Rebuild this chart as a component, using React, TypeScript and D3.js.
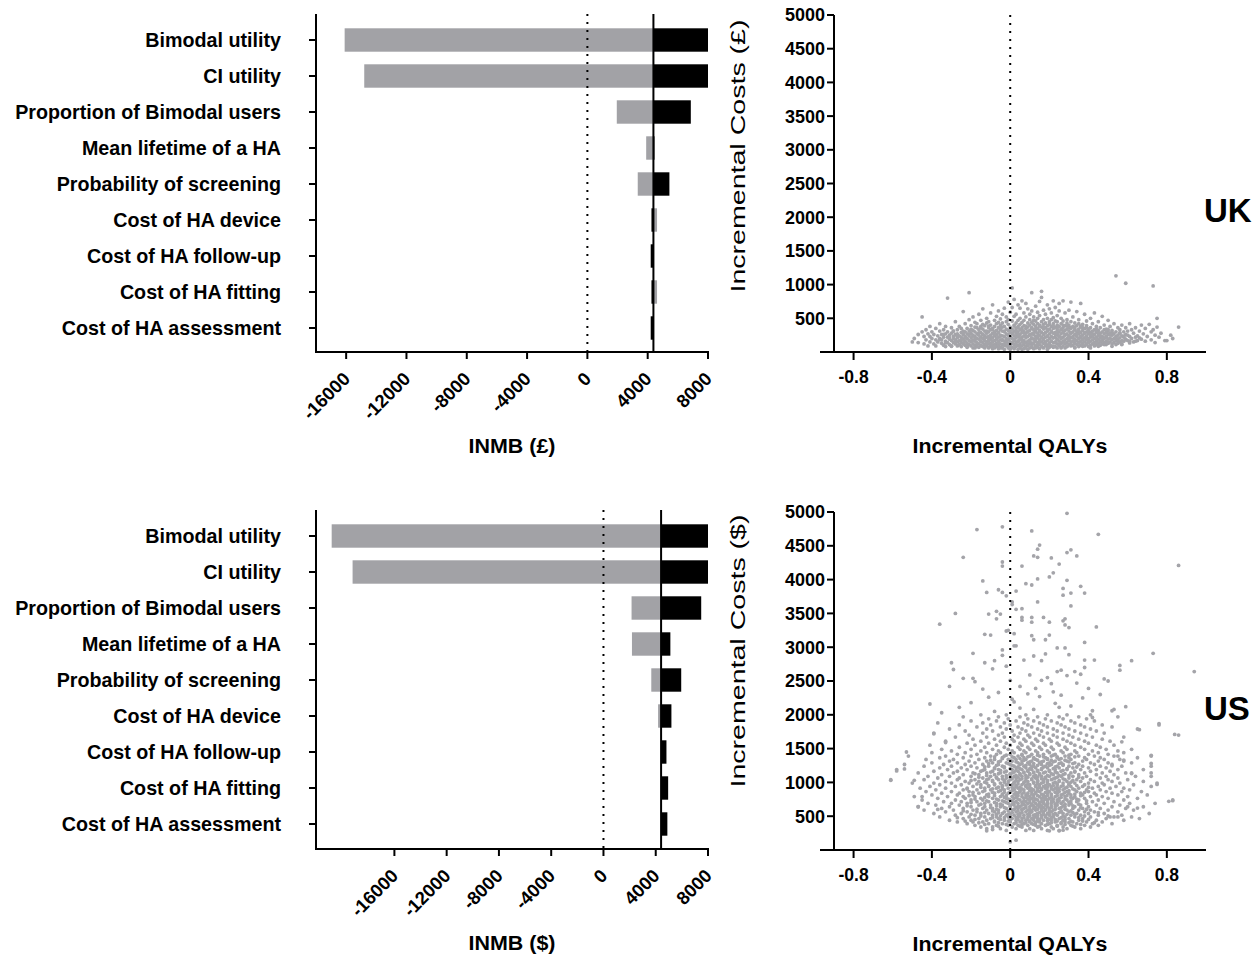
import * as d3 from "d3";

const FONT = "'Liberation Sans', Arial, Helvetica, sans-serif";
const GRAY = "#a2a2a6";
const DOT = "#a4a4a9";

// tornado categories (top to bottom)
const params = [
  "Bimodal utility",
  "CI utility",
  "Proportion of Bimodal users",
  "Mean lifetime of a HA",
  "Probability of screening",
  "Cost of HA device",
  "Cost of HA follow-up",
  "Cost of HA fitting",
  "Cost of HA assessment",
];

// INMB at each end of the parameter range
const ukBase = 4380;
const ukGray = [-16100, -14800, 1950, 3900, 3340, 4620, 4380, 4620, 4380];
const ukBlack = [8000, 8000, 6860, 4450, 5440, 4250, 4200, 4250, 4200];

const usBase = 4410;
const usGray = [-20800, -19200, 2150, 2180, 3660, 4180, 4410, 4410, 4410];
const usBlack = [8000, 8000, 7480, 5120, 5950, 5200, 4820, 4950, 4890];

const inmbTicks = [-16000, -12000, -8000, -4000, 0, 4000, 8000];
const qalyTicks = [-0.8, -0.4, 0, 0.4, 0.8];
const costTicks = [500, 1000, 1500, 2000, 2500, 3000, 3500, 4000, 4500, 5000];

// UK PSA cloud by QALY column: [qaly, [costs...]]
const ukCloud: [number, number[]][] = [
  [-0.50, [150]], [-0.49, [200]], [-0.47, [260, 140]], [-0.45, [520, 300]],
  [-0.44, [230, 120]], [-0.43, [330, 180]], [-0.42, [270, 90]], [-0.41, [380, 150, 230]],
  [-0.40, [300, 200]], [-0.39, [120, 260]], [-0.38, [350, 180, 90]], [-0.37, [240, 150]],
  [-0.36, [420, 310, 200]], [-0.35, [130, 260, 180]], [-0.34, [330, 220, 100]],
  [-0.33, [270, 160, 80, 380]], [-0.32, [800, 220, 140, 300]], [-0.31, [190, 250, 110]],
  [-0.30, [360, 280, 170, 90]], [-0.29, [230, 140, 310, 200]], [-0.28, [450, 260, 180, 120]],
  [-0.27, [330, 210, 150, 90, 270]], [-0.26, [380, 240, 170, 110]], [-0.25, [290, 220, 140, 80, 350]],
  [-0.24, [600, 260, 190, 120, 310]], [-0.23, [420, 300, 230, 160, 100]],
  [-0.22, [350, 270, 200, 130, 70]], [-0.21, [880, 480, 310, 240, 170, 110]],
  [-0.20, [390, 280, 210, 150, 90, 330]], [-0.19, [520, 320, 250, 180, 120, 60]],
  [-0.18, [440, 300, 230, 160, 100, 370]], [-0.17, [360, 270, 200, 140, 80, 420]],
  [-0.16, [560, 330, 250, 190, 120, 70]], [-0.15, [470, 380, 290, 220, 160, 100]],
  [-0.14, [640, 340, 260, 200, 140, 80, 410]], [-0.13, [390, 310, 240, 170, 110, 60]],
  [-0.12, [500, 430, 280, 220, 150, 90]], [-0.11, [360, 300, 230, 170, 120, 70, 450]],
  [-0.10, [580, 400, 330, 250, 190, 130, 80]], [-0.09, [700, 350, 280, 210, 150, 100, 50]],
  [-0.08, [470, 380, 300, 240, 170, 110, 60]], [-0.07, [530, 420, 320, 260, 190, 130, 80]],
  [-0.06, [610, 360, 290, 220, 160, 100, 50, 440]], [-0.05, [490, 400, 330, 250, 180, 120, 70]],
  [-0.04, [560, 430, 310, 240, 170, 110, 60, 370]], [-0.03, [650, 380, 300, 230, 160, 100, 40]],
  [-0.02, [520, 450, 340, 270, 200, 140, 90]], [-0.01, [740, 410, 320, 250, 180, 120, 60, 480]],
  [0.00, [590, 370, 290, 220, 150, 90, 40]], [0.01, [950, 660, 460, 340, 270, 200, 130, 70]],
  [0.02, [780, 400, 310, 240, 170, 110, 50, 530]], [0.03, [560, 430, 350, 280, 210, 140, 80]],
  [0.04, [700, 380, 300, 230, 160, 100, 40, 470]], [0.05, [650, 500, 410, 330, 260, 190, 120, 60]],
  [0.06, [760, 440, 360, 290, 220, 150, 90, 40]], [0.07, [580, 470, 390, 310, 240, 170, 110, 50]],
  [0.08, [720, 520, 350, 280, 210, 140, 80]], [0.09, [640, 430, 370, 300, 230, 160, 100, 40]],
  [0.10, [560, 480, 400, 320, 250, 180, 120, 60]], [0.11, [880, 610, 440, 350, 270, 200, 130, 70]],
  [0.12, [520, 410, 330, 260, 190, 120, 50, 470]], [0.13, [680, 460, 380, 300, 230, 160, 90]],
  [0.14, [590, 420, 350, 280, 210, 140, 70, 500]], [0.15, [750, 540, 400, 320, 250, 180, 110, 50]],
  [0.16, [900, 810, 450, 370, 290, 220, 150, 80]], [0.17, [620, 480, 340, 270, 200, 130, 60, 410]],
  [0.18, [560, 430, 360, 290, 220, 150, 90]], [0.19, [700, 500, 390, 310, 240, 170, 100, 40]],
  [0.20, [640, 450, 340, 270, 200, 130, 70, 410]], [0.21, [580, 480, 380, 300, 230, 160, 90]],
  [0.22, [760, 420, 350, 280, 210, 140, 70, 510]], [0.23, [660, 460, 370, 290, 220, 150, 80]],
  [0.24, [540, 400, 330, 260, 190, 120, 60, 450]], [0.25, [720, 610, 380, 300, 230, 160, 100]],
  [0.26, [500, 420, 340, 270, 200, 130, 70]], [0.27, [760, 460, 360, 290, 220, 150, 90, 400]],
  [0.28, [580, 390, 320, 250, 180, 120, 60]], [0.29, [480, 430, 340, 270, 200, 140, 80]],
  [0.30, [620, 400, 310, 240, 170, 110, 360]], [0.31, [740, 450, 350, 280, 210, 150, 90]],
  [0.32, [520, 380, 300, 230, 160, 100]], [0.33, [430, 330, 260, 190, 130, 70, 370]],
  [0.34, [600, 390, 300, 230, 170, 110]], [0.35, [480, 340, 270, 200, 140, 80, 420]],
  [0.36, [720, 370, 290, 220, 160, 100]], [0.37, [410, 320, 250, 190, 130, 360]],
  [0.38, [560, 350, 280, 210, 150, 90]], [0.39, [460, 300, 240, 180, 120, 390]],
  [0.40, [340, 270, 200, 140, 80, 310]], [0.41, [500, 360, 290, 220, 160, 100]],
  [0.42, [420, 310, 240, 180, 120, 270]], [0.43, [580, 330, 260, 200, 140, 90]],
  [0.44, [380, 290, 220, 160, 110, 340]], [0.45, [450, 320, 250, 190, 130]],
  [0.46, [360, 280, 210, 150, 100, 240]], [0.47, [530, 300, 230, 170, 120]],
  [0.48, [400, 270, 200, 140, 330]], [0.49, [340, 290, 220, 160, 110]],
  [0.50, [470, 260, 190, 130, 310]], [0.51, [380, 280, 210, 150]],
  [0.52, [320, 250, 180, 120, 290]], [0.53, [420, 270, 200, 140]],
  [0.54, [1130, 300, 230, 170, 110]], [0.55, [360, 250, 190, 130]],
  [0.56, [280, 210, 150, 330]], [0.57, [400, 240, 170, 120]], [0.58, [300, 220, 160]],
  [0.59, [1020, 360, 260, 190]], [0.60, [250, 170, 310]], [0.61, [420, 230, 160]],
  [0.62, [330, 200]], [0.63, [280, 150]], [0.64, [360, 220]], [0.65, [240, 170]],
  [0.66, [310]], [0.67, [190, 400]], [0.68, [270]], [0.69, [350, 160]], [0.70, [230]],
  [0.71, [410]], [0.72, [300, 180]], [0.73, [980, 330]], [0.74, [250, 140]],
  [0.75, [500, 370]], [0.76, [220]], [0.77, [280]], [0.79, [170]], [0.80, [170]],
  [0.82, [250]], [0.83, [200]], [0.86, [370]],
];

// UK dense band by cost row: [cost, [qalys...]]
const ukCore: [number, number[]][] = [
  [60, [-0.18, -0.11, -0.05, 0.02, 0.08, 0.13, 0.19, 0.26, 0.33, 0.41]],
  [85, [-0.30, -0.22, -0.14, -0.08, -0.01, 0.05, 0.11, 0.16, 0.22, 0.29, 0.37, 0.45, 0.52]],
  [110, [-0.26, -0.17, -0.10, -0.03, 0.03, 0.09, 0.14, 0.20, 0.25, 0.31, 0.39, 0.48, 0.57]],
  [135, [-0.33, -0.24, -0.12, -0.06, 0.01, 0.07, 0.12, 0.18, 0.23, 0.28, 0.35, 0.43, 0.50, 0.61]],
  [160, [-0.28, -0.20, -0.15, -0.09, -0.02, 0.04, 0.10, 0.15, 0.21, 0.27, 0.33, 0.40, 0.46, 0.55, 0.64]],
  [185, [-0.36, -0.25, -0.18, -0.11, -0.04, 0.02, 0.06, 0.13, 0.17, 0.24, 0.30, 0.37, 0.44, 0.52, 0.59]],
  [210, [-0.31, -0.23, -0.13, -0.07, 0.00, 0.05, 0.11, 0.16, 0.22, 0.26, 0.32, 0.39, 0.47, 0.54, 0.66]],
  [235, [-0.27, -0.19, -0.10, -0.05, 0.03, 0.08, 0.14, 0.19, 0.25, 0.30, 0.36, 0.42, 0.49, 0.58]],
  [260, [-0.34, -0.21, -0.14, -0.08, -0.01, 0.04, 0.10, 0.17, 0.23, 0.28, 0.34, 0.41, 0.51]],
  [285, [-0.24, -0.16, -0.06, 0.01, 0.07, 0.12, 0.18, 0.24, 0.31, 0.38, 0.45, 0.56]],
  [310, [-0.29, -0.12, -0.03, 0.03, 0.09, 0.15, 0.21, 0.27, 0.35, 0.44]],
  [335, [-0.20, -0.09, 0.00, 0.06, 0.13, 0.19, 0.26, 0.33, 0.40, 0.50]],
  [360, [-0.15, -0.05, 0.04, 0.11, 0.17, 0.24, 0.31, 0.39]],
  [385, [-0.11, 0.02, 0.08, 0.15, 0.22, 0.29, 0.36]],
];

// US PSA cloud by cost row: [cost, [qalys...]]
const usCore: [number, number[]][] = [
  [290, [0.08, 0.12, 0.19, -0.02, 0.25]],
  [315, [-0.05, 0.03, 0.10, 0.16, 0.22, 0.29, 0.36, -0.12]],
  [340, [-0.09, 0.01, 0.06, 0.14, 0.21, 0.27, 0.33, -0.15, 0.41]],
  [365, [-0.18, -0.07, -0.01, 0.04, 0.09, 0.13, 0.18, 0.24, 0.31, 0.38, 0.45]],
  [390, [-0.22, -0.11, -0.04, 0.02, 0.07, 0.11, 0.16, 0.20, 0.26, 0.34, 0.42, 0.52]],
  [415, [-0.27, -0.14, -0.08, 0.00, 0.05, 0.10, 0.15, 0.23, 0.28, 0.32, 0.39, -0.19, 0.47]],
  [440, [-0.31, -0.20, -0.12, -0.03, 0.03, 0.08, 0.12, 0.17, 0.21, 0.27, 0.35, 0.44, 0.58]],
  [465, [-0.24, -0.16, -0.10, -0.06, 0.01, 0.06, 0.11, 0.14, 0.19, 0.25, 0.30, 0.37, 0.49, 0.66]],
  [490, [-0.36, -0.21, -0.13, -0.07, -0.01, 0.04, 0.09, 0.13, 0.18, 0.22, 0.28, 0.33, 0.41, 0.53, 0.62]],
  [515, [-0.28, -0.18, -0.09, -0.02, 0.02, 0.07, 0.12, 0.16, 0.20, 0.24, 0.31, 0.36, 0.45, 0.57]],
  [540, [-0.39, -0.25, -0.15, -0.11, -0.04, 0.00, 0.05, 0.10, 0.14, 0.19, 0.23, 0.27, 0.34, 0.40, 0.48, 0.71]],
  [565, [-0.33, -0.22, -0.17, -0.08, -0.03, 0.03, 0.08, 0.11, 0.17, 0.21, 0.26, 0.30, 0.38, 0.43, 0.55]],
  [590, [-0.44, -0.29, -0.19, -0.12, -0.06, 0.01, 0.06, 0.09, 0.13, 0.18, 0.22, 0.29, 0.35, 0.41, 0.50, 0.63]],
  [615, [-0.35, -0.24, -0.14, -0.09, -0.02, 0.04, 0.07, 0.12, 0.16, 0.20, 0.25, 0.32, 0.37, 0.46, 0.59]],
  [640, [-0.47, -0.31, -0.20, -0.13, -0.05, 0.00, 0.05, 0.10, 0.15, 0.19, 0.23, 0.28, 0.33, 0.40, 0.52, 0.68]],
  [665, [-0.38, -0.26, -0.16, -0.10, -0.04, 0.02, 0.06, 0.11, 0.14, 0.18, 0.24, 0.30, 0.36, 0.44, 0.56]],
  [690, [-0.42, -0.30, -0.22, -0.13, -0.07, -0.01, 0.04, 0.09, 0.13, 0.17, 0.21, 0.26, 0.31, 0.39, 0.48, 0.61, 0.74]],
  [715, [-0.34, -0.25, -0.17, -0.11, -0.03, 0.03, 0.08, 0.12, 0.16, 0.22, 0.27, 0.34, 0.42, 0.53]],
  [740, [-0.45, -0.28, -0.20, -0.14, -0.06, 0.00, 0.05, 0.10, 0.14, 0.19, 0.24, 0.29, 0.35, 0.45, 0.58, 0.83]],
  [765, [-0.37, -0.23, -0.15, -0.09, -0.02, 0.02, 0.07, 0.11, 0.16, 0.20, 0.25, 0.32, 0.38, 0.50, 0.65]],
  [790, [-0.49, -0.32, -0.24, -0.18, -0.11, -0.05, 0.01, 0.06, 0.10, 0.15, 0.18, 0.23, 0.28, 0.33, 0.41, 0.47, 0.60]],
  [815, [-0.40, -0.27, -0.19, -0.12, -0.04, 0.03, 0.08, 0.12, 0.17, 0.21, 0.26, 0.31, 0.37, 0.44, 0.55, 0.70]],
  [840, [-0.35, -0.26, -0.16, -0.08, -0.01, 0.04, 0.09, 0.13, 0.19, 0.24, 0.30, 0.36, 0.43, 0.52]],
  [865, [-0.43, -0.30, -0.21, -0.14, -0.06, 0.00, 0.05, 0.11, 0.15, 0.20, 0.25, 0.29, 0.34, 0.40, 0.49, 0.57, 0.67]],
  [890, [-0.38, -0.24, -0.17, -0.10, -0.03, 0.02, 0.07, 0.12, 0.16, 0.22, 0.27, 0.33, 0.39, 0.46, 0.61]],
  [915, [-0.46, -0.33, -0.22, -0.13, -0.07, -0.01, 0.04, 0.09, 0.14, 0.18, 0.23, 0.28, 0.35, 0.42, 0.51, 0.58]],
  [940, [-0.41, -0.28, -0.19, -0.11, -0.04, 0.03, 0.08, 0.13, 0.17, 0.21, 0.26, 0.31, 0.37, 0.45, 0.54, 0.72]],
  [965, [-0.36, -0.25, -0.15, -0.08, -0.02, 0.01, 0.06, 0.10, 0.15, 0.20, 0.24, 0.30, 0.38, 0.48, 0.63]],
  [990, [-0.50, -0.39, -0.30, -0.21, -0.12, -0.05, 0.02, 0.07, 0.12, 0.16, 0.22, 0.27, 0.33, 0.40, 0.47, 0.56, 0.75]],
  [1015, [-0.33, -0.23, -0.16, -0.09, -0.01, 0.04, 0.09, 0.14, 0.19, 0.25, 0.29, 0.36, 0.43, 0.52, 0.68]],
  [1040, [-0.61, -0.44, -0.27, -0.18, -0.12, -0.06, 0.00, 0.05, 0.11, 0.17, 0.21, 0.28, 0.34, 0.41, 0.50, 0.60]],
  [1065, [-0.37, -0.26, -0.14, -0.07, -0.02, 0.03, 0.08, 0.13, 0.18, 0.23, 0.30, 0.37, 0.46, 0.55]],
  [1090, [-0.42, -0.31, -0.20, -0.10, -0.04, 0.02, 0.06, 0.12, 0.16, 0.20, 0.26, 0.32, 0.39, 0.49, 0.64, 0.72]],
  [1115, [-0.35, -0.24, -0.16, -0.08, 0.00, 0.05, 0.10, 0.15, 0.22, 0.27, 0.35, 0.44, 0.53]],
  [1140, [-0.47, -0.29, -0.19, -0.12, -0.05, 0.01, 0.07, 0.12, 0.17, 0.24, 0.31, 0.38, 0.47, 0.59, 0.62]],
  [1165, [-0.39, -0.27, -0.15, -0.09, -0.02, 0.04, 0.09, 0.14, 0.20, 0.26, 0.33, 0.41, 0.51]],
  [1190, [-0.58, -0.32, -0.22, -0.13, -0.06, 0.01, 0.06, 0.11, 0.16, 0.23, 0.29, 0.36, 0.44, 0.55, 0.68]],
  [1215, [-0.36, -0.25, -0.17, -0.08, -0.03, 0.03, 0.08, 0.13, 0.19, 0.25, 0.32, 0.40, 0.49]],
  [1240, [-0.44, -0.30, -0.20, -0.11, -0.04, 0.02, 0.07, 0.12, 0.18, 0.24, 0.30, 0.37, 0.46, 0.57, 0.72]],
  [1265, [-0.54, -0.34, -0.23, -0.14, -0.06, 0.00, 0.05, 0.10, 0.16, 0.21, 0.27, 0.35, 0.43, 0.52]],
  [1290, [-0.40, -0.27, -0.18, -0.09, -0.02, 0.04, 0.09, 0.15, 0.20, 0.26, 0.33, 0.41, 0.50, 0.62]],
  [1315, [-0.31, -0.21, -0.12, -0.05, 0.01, 0.06, 0.11, 0.17, 0.23, 0.29, 0.37, 0.45, 0.58]],
  [1340, [-0.43, -0.29, -0.16, -0.08, -0.01, 0.03, 0.08, 0.13, 0.19, 0.25, 0.31, 0.39, 0.48, 0.56]],
  [1365, [-0.36, -0.24, -0.13, -0.04, 0.02, 0.07, 0.12, 0.18, 0.24, 0.30, 0.38, 0.46, 0.65]],
  [1390, [-0.52, -0.33, -0.20, -0.10, -0.03, 0.04, 0.10, 0.15, 0.21, 0.28, 0.35, 0.43, 0.53, 0.72]],
  [1415, [-0.27, -0.17, -0.07, 0.00, 0.06, 0.11, 0.17, 0.23, 0.31, 0.40, 0.50]],
  [1440, [-0.40, -0.23, -0.12, -0.05, 0.02, 0.08, 0.14, 0.20, 0.27, 0.34, 0.45, 0.58]],
  [1465, [-0.30, -0.15, -0.06, 0.01, 0.07, 0.13, 0.19, 0.26, 0.33, 0.42, 0.55]],
  [1490, [-0.35, -0.20, -0.09, -0.01, 0.05, 0.10, 0.16, 0.22, 0.29, 0.38, 0.49, 0.62]],
  [1520, [-0.26, -0.13, -0.03, 0.04, 0.09, 0.15, 0.21, 0.28, 0.36, 0.46]],
  [1550, [-0.41, -0.18, -0.07, 0.00, 0.06, 0.12, 0.18, 0.25, 0.33, 0.44, 0.53]],
  [1580, [-0.22, -0.11, -0.02, 0.05, 0.11, 0.17, 0.24, 0.31, 0.40]],
  [1610, [-0.33, -0.15, -0.05, 0.02, 0.08, 0.14, 0.21, 0.29, 0.38, 0.51]],
  [1640, [-0.19, -0.08, 0.01, 0.07, 0.13, 0.20, 0.27, 0.35, 0.47]],
  [1670, [-0.28, -0.12, -0.03, 0.04, 0.10, 0.17, 0.24, 0.32, 0.42, 0.58]],
  [1700, [-0.21, -0.06, 0.02, 0.09, 0.15, 0.22, 0.30, 0.39, 0.86]],
  [1730, [-0.39, -0.14, -0.04, 0.05, 0.12, 0.19, 0.27, 0.36, 0.48]],
  [1760, [-0.23, -0.09, 0.01, 0.08, 0.16, 0.24, 0.33, 0.44]],
  [1790, [-0.31, -0.12, -0.02, 0.06, 0.14, 0.22, 0.30, 0.41, 0.65]],
  [1820, [-0.17, -0.05, 0.04, 0.11, 0.19, 0.28, 0.38, 0.52]],
  [1850, [-0.26, -0.10, 0.00, 0.09, 0.17, 0.26, 0.36, 0.47, 0.76]],
  [1880, [-0.37, -0.14, -0.03, 0.07, 0.15, 0.24, 0.33]],
  [1910, [-0.20, -0.07, 0.03, 0.12, 0.21, 0.31, 0.43]],
  [1940, [-0.11, -0.01, 0.09, 0.18, 0.27, 0.39]],
  [1970, [-0.24, -0.06, 0.05, 0.14, 0.25, 0.35, 0.55]],
  [2000, [-0.15, -0.02, 0.08, 0.19, 0.29, 0.41]],
];

// US densest part of the cloud, rows between those above
const usDense: [number, number[]][] = [
  [352, [-0.06, 0.05, 0.15, 0.24, 0.32]],
  [378, [-0.13, -0.02, 0.06, 0.12, 0.19, 0.28, 0.36]],
  [403, [-0.16, -0.06, 0.03, 0.08, 0.13, 0.21, 0.26, 0.30, 0.43]],
  [428, [-0.23, -0.08, -0.01, 0.06, 0.10, 0.14, 0.19, 0.24, 0.31, 0.37]],
  [452, [-0.18, -0.05, 0.00, 0.04, 0.09, 0.15, 0.20, 0.23, 0.28, 0.40]],
  [478, [-0.27, -0.09, -0.03, 0.03, 0.07, 0.12, 0.16, 0.21, 0.26, 0.35]],
  [503, [-0.15, -0.05, 0.00, 0.05, 0.10, 0.14, 0.18, 0.22, 0.27, 0.38, 0.50]],
  [528, [-0.20, -0.07, -0.01, 0.04, 0.09, 0.13, 0.17, 0.22, 0.29, 0.33]],
  [553, [-0.13, -0.06, 0.01, 0.06, 0.10, 0.15, 0.20, 0.25, 0.32, 0.45]],
  [578, [-0.24, -0.09, -0.01, 0.04, 0.11, 0.16, 0.20, 0.26, 0.31]],
  [603, [-0.17, -0.07, 0.02, 0.06, 0.10, 0.14, 0.18, 0.23, 0.28, 0.39]],
  [628, [-0.10, -0.03, 0.03, 0.08, 0.13, 0.17, 0.21, 0.26, 0.36]],
  [653, [-0.22, -0.07, 0.00, 0.04, 0.08, 0.12, 0.16, 0.21, 0.27, 0.32]],
  [678, [-0.15, -0.05, 0.01, 0.07, 0.11, 0.15, 0.19, 0.23, 0.28, 0.35]],
  [703, [-0.20, -0.08, -0.02, 0.02, 0.06, 0.10, 0.15, 0.19, 0.24, 0.30]],
  [728, [-0.12, -0.04, 0.01, 0.07, 0.12, 0.17, 0.21, 0.25, 0.31, 0.39]],
  [753, [-0.18, -0.07, -0.01, 0.04, 0.09, 0.13, 0.18, 0.22, 0.28, 0.34]],
  [778, [-0.13, -0.03, 0.03, 0.08, 0.12, 0.17, 0.21, 0.26, 0.31]],
  [803, [-0.21, -0.08, -0.02, 0.04, 0.09, 0.14, 0.19, 0.24, 0.29, 0.36]],
  [828, [-0.11, -0.04, 0.02, 0.06, 0.11, 0.16, 0.21, 0.27, 0.33]],
  [853, [-0.19, -0.09, -0.03, 0.03, 0.07, 0.13, 0.18, 0.23, 0.28, 0.38]],
  [878, [-0.13, -0.05, 0.01, 0.05, 0.10, 0.14, 0.19, 0.24, 0.30]],
  [903, [-0.22, -0.09, -0.04, 0.02, 0.06, 0.11, 0.16, 0.21, 0.25, 0.32]],
  [928, [-0.15, -0.06, 0.01, 0.05, 0.10, 0.15, 0.19, 0.24, 0.29, 0.40]],
  [953, [-0.11, -0.04, 0.03, 0.08, 0.13, 0.18, 0.22, 0.27, 0.34]],
  [978, [-0.17, -0.08, -0.01, 0.04, 0.09, 0.14, 0.19, 0.24, 0.30]],
  [1003, [-0.13, -0.03, 0.02, 0.07, 0.12, 0.17, 0.23, 0.31]],
  [1028, [-0.20, -0.09, -0.03, 0.03, 0.08, 0.14, 0.19, 0.25, 0.32]],
  [1053, [-0.11, -0.04, 0.01, 0.06, 0.11, 0.16, 0.22, 0.27]],
  [1078, [-0.16, -0.07, 0.00, 0.04, 0.09, 0.14, 0.18, 0.24, 0.35]],
  [1103, [-0.12, -0.02, 0.03, 0.08, 0.13, 0.19, 0.25, 0.30]],
  [1128, [-0.18, -0.06, 0.00, 0.05, 0.10, 0.15, 0.21, 0.28]],
  [1153, [-0.10, -0.03, 0.02, 0.07, 0.12, 0.18, 0.23, 0.33]],
  [1178, [-0.14, -0.05, 0.03, 0.09, 0.14, 0.20, 0.27]],
  [1203, [-0.08, 0.00, 0.05, 0.10, 0.16, 0.22, 0.29]],
  [1228, [-0.13, -0.03, 0.04, 0.11, 0.17, 0.23, 0.34]],
  [1253, [-0.07, 0.01, 0.08, 0.14, 0.20, 0.27]],
  [1278, [-0.11, -0.01, 0.06, 0.12, 0.19, 0.25, 0.32]],
  [1303, [-0.06, 0.03, 0.10, 0.16, 0.22, 0.30]],
  [1328, [-0.10, 0.00, 0.07, 0.14, 0.21, 0.28]],
  [1353, [-0.04, 0.05, 0.12, 0.19, 0.26]],
  [1378, [-0.08, 0.01, 0.09, 0.17, 0.24, 0.33]],
  [1403, [-0.02, 0.06, 0.14, 0.22, 0.30]],
];

// US sparse points outside the core: [qaly, cost]
const usOuter: [number, number][] = [
  [0.29, 4980], [-0.17, 4740], [-0.04, 4780], [0.11, 4720], [0.45, 4670], [-0.24, 4330],
  [-0.04, 4260], [-0.04, 4200], [0.06, 4200], [0.12, 4350], [0.14, 4450], [0.15, 4510],
  [0.14, 4330], [0.21, 4320], [0.25, 4230], [0.29, 4400], [0.31, 4440], [0.34, 4350],
  [0.86, 4210], [-0.14, 3980], [-0.12, 3810], [-0.06, 3850], [-0.04, 3810], [-0.02, 3760],
  [0.03, 3830], [0.08, 3940], [0.11, 3920], [0.14, 4010], [0.20, 4040], [0.22, 4100],
  [0.29, 3990], [0.27, 3870], [0.27, 3770], [0.31, 3800], [0.36, 3900], [0.38, 3800],
  [0.31, 3610], [0.14, 3670], [0.01, 3670], [0.01, 3630], [0.03, 3560], [0.06, 3570],
  [-0.28, 3500], [-0.36, 3340], [-0.11, 3490], [-0.07, 3530], [-0.05, 3490], [-0.07, 3420],
  [0.06, 3440], [0.06, 3400], [0.11, 3440], [0.11, 3370], [0.17, 3440], [0.20, 3370],
  [0.27, 3390], [0.28, 3420], [0.28, 3330], [0.30, 3290], [0.44, 3300], [-0.13, 3190],
  [-0.10, 3180], [-0.02, 3240], [-0.01, 3250], [0.02, 3200], [0.03, 3020], [0.02, 3020],
  [0.11, 3170], [0.12, 3110], [0.18, 3110], [0.20, 3180], [0.38, 3070], [0.24, 2990],
  [0.28, 2990], [0.30, 2890], [-0.19, 2910], [-0.04, 2960], [-0.04, 2880], [0.07, 2810],
  [0.12, 2870], [0.16, 2800], [0.18, 2900], [-0.30, 2770], [-0.29, 2670], [-0.13, 2770],
  [-0.08, 2800], [-0.09, 2680], [-0.02, 2720], [0.24, 2640], [0.26, 2660], [0.29, 2580],
  [0.33, 2640], [0.36, 2600], [0.38, 2700], [0.38, 2810], [0.43, 2810], [0.56, 2730],
  [0.56, 2660], [0.62, 2800], [0.73, 2910], [0.94, 2640], [0.48, 2530], [0.50, 2500],
  [-0.24, 2540], [-0.19, 2540], [-0.18, 2490], [0.10, 2590], [0.16, 2510], [0.00, 2510],
  [0.19, 2550], [-0.31, 2420], [-0.14, 2380], [0.05, 2420], [0.13, 2390], [0.21, 2460],
  [0.34, 2470], [0.40, 2390], [-0.06, 2330], [0.09, 2310], [0.22, 2340], [0.46, 2300],
  [-0.11, 2260], [0.01, 2230], [0.15, 2270], [0.26, 2290], [0.37, 2250], [-0.41, 2160],
  [0.02, 2190], [-0.20, 2180], [0.23, 2170], [0.59, 2120], [0.31, 2130], [-0.35, 2030],
  [-0.26, 2110], [-0.08, 2050], [0.05, 2100], [0.25, 2110], [0.42, 2060], [0.53, 2080],
  [0.52, 2060], [0.42, 1960], [0.12, 2080],
  [-0.61, 1030], [-0.58, 1170], [-0.54, 1200], [-0.53, 1450], [-0.49, 1030], [-0.47, 640],
  [-0.45, 790], [-0.39, 1720], [-0.33, 1590], [-0.37, 600], [0.84, 1710], [0.76, 1870],
  [0.66, 1780], [0.83, 730], [0.75, 970], [0.72, 1400], [0.72, 1280], [0.72, 1140],
  [0.62, 1130], [0.51, 490], [0.55, 490], [0.60, 640], [0.65, 620], [0.57, 1600],
  [0.55, 1390], [0.58, 1330], [0.52, 1245], [0.81, 720],
  [0.00, 120], [0.03, 145], [-0.12, 283], [-0.09, 303], [0.20, 283], [0.25, 283], [0.27, 293],
];

const byColumn = (cloud: [number, number[]][]) =>
  cloud.flatMap(([q, cs]) => cs.map((c) => [q, c] as [number, number]));
const byRow = (rows: [number, number[]][]) =>
  rows.flatMap(([c, qs]) => qs.map((q) => [q, c] as [number, number]));

const ukPoints = [...byColumn(ukCloud), ...byRow(ukCore)];
const usPoints = [...byRow(usCore), ...byRow(usDense), ...usOuter];

const Tornado = ({ band, top, axisY, domain, gray, black, base, title }) => {
  const x = d3.scaleLinear().domain(domain).range([316, 708]);
  const y = d3.scaleBand().domain(params).range(band).paddingInner(0.35).paddingOuter(0.175);
  return (
    <g>
      {params.map((p, i) => (
        <g key={p}>
          <rect x={Math.min(x(gray[i]), x(base))} y={y(p)} width={Math.abs(x(gray[i]) - x(base))}
            height={y.bandwidth()} fill={GRAY} />
          <rect x={Math.min(x(black[i]), x(base))} y={y(p)} width={Math.abs(x(black[i]) - x(base))}
            height={y.bandwidth()} fill="#000" />
          <line x1={309} x2={316} y1={y(p) + y.bandwidth() / 2} y2={y(p) + y.bandwidth() / 2}
            stroke="#000" strokeWidth={2} />
          <text x={281} y={y(p) + y.bandwidth() / 2} dy="0.33em" textAnchor="end"
            fontSize={19.7} fontWeight="bold">{p}</text>
        </g>
      ))}
      <line x1={x(0)} x2={x(0)} y1={top} y2={axisY} stroke="#000" strokeWidth={2} strokeDasharray="2 6" />
      <line x1={x(base)} x2={x(base)} y1={top} y2={axisY} stroke="#000" strokeWidth={2} />
      <line x1={316} x2={316} y1={top} y2={axisY + 1} stroke="#000" strokeWidth={2} />
      <line x1={315} x2={709} y1={axisY} y2={axisY} stroke="#000" strokeWidth={2} />
      {inmbTicks.map((t) => (
        <g key={t}>
          <line x1={x(t)} x2={x(t)} y1={axisY} y2={axisY + 7} stroke="#000" strokeWidth={2} />
          <text transform={`translate(${x(t) + 5},${axisY + 28}) rotate(-45)`} textAnchor="end"
            fontSize={18.5} fontWeight="bold">{t}</text>
        </g>
      ))}
      <text x={512} y={axisY + 101} textAnchor="middle" fontSize={20} fontWeight="bold"
        textLength={87} lengthAdjust="spacingAndGlyphs">{title}</text>
    </g>
  );
};

const Scatter = ({ top, axisY, points, yTitle, titleY, region }) => {
  const x = d3.scaleLinear().domain([-0.9, 1.0]).range([834, 1206]);
  const y = d3.scaleLinear().domain([0, 5000]).range([axisY, top]);
  return (
    <g>
      <g fill={DOT}>
        {points.map(([q, c], i) => (
          <circle key={i} cx={x(q)} cy={y(c)} r={1.9} />
        ))}
      </g>
      <line x1={x(0)} x2={x(0)} y1={top} y2={axisY} stroke="#000" strokeWidth={2} strokeDasharray="2 6" />
      <line x1={834} x2={834} y1={top} y2={axisY + 1} stroke="#000" strokeWidth={2} />
      <line x1={820} x2={1206} y1={axisY} y2={axisY} stroke="#000" strokeWidth={2} />
      {costTicks.map((t) => (
        <g key={t}>
          <line x1={827} x2={834} y1={y(t)} y2={y(t)} stroke="#000" strokeWidth={2} />
          <text x={825} y={y(t)} dy="0.36em" textAnchor="end" fontSize={18} fontWeight="bold">{t}</text>
        </g>
      ))}
      {qalyTicks.map((t) => (
        <g key={t}>
          <line x1={x(t)} x2={x(t)} y1={axisY} y2={axisY + 8} stroke="#000" strokeWidth={2} />
          <text x={x(t)} y={axisY + 31} textAnchor="middle" fontSize={17.5} fontWeight="bold">{t}</text>
        </g>
      ))}
      <text transform={`translate(745,${titleY}) rotate(-90)`} textAnchor="middle" fontSize={20.5}
        textLength={273} lengthAdjust="spacingAndGlyphs">{yTitle}</text>
      <text x={1010} y={axisY + 101} textAnchor="middle" fontSize={20} fontWeight="bold"
        textLength={195} lengthAdjust="spacingAndGlyphs">Incremental QALYs</text>
      <text x={1204} y={axisY - 130} fontSize={33} fontWeight="bold">{region}</text>
    </g>
  );
};

export default function App() {
  return (
    <svg width={1260} height={959} viewBox="0 0 1260 959" fontFamily={FONT}
      style={{ position: "absolute", left: 0, top: 0, background: "#fff" }}>
      <Tornado band={[22, 346]} top={14} axisY={352} domain={[-18000, 8000]}
        gray={ukGray} black={ukBlack} base={ukBase} title="INMB (£)" />
      <Tornado band={[518, 842]} top={510} axisY={849} domain={[-22000, 8000]}
        gray={usGray} black={usBlack} base={usBase} title="INMB ($)" />
      <Scatter top={15} axisY={352} points={ukPoints} yTitle="Incremental Costs (£)"
        titleY={156} region="UK" />
      <Scatter top={512} axisY={850} points={usPoints} yTitle="Incremental Costs ($)"
        titleY={651} region="US" />
    </svg>
  );
}
